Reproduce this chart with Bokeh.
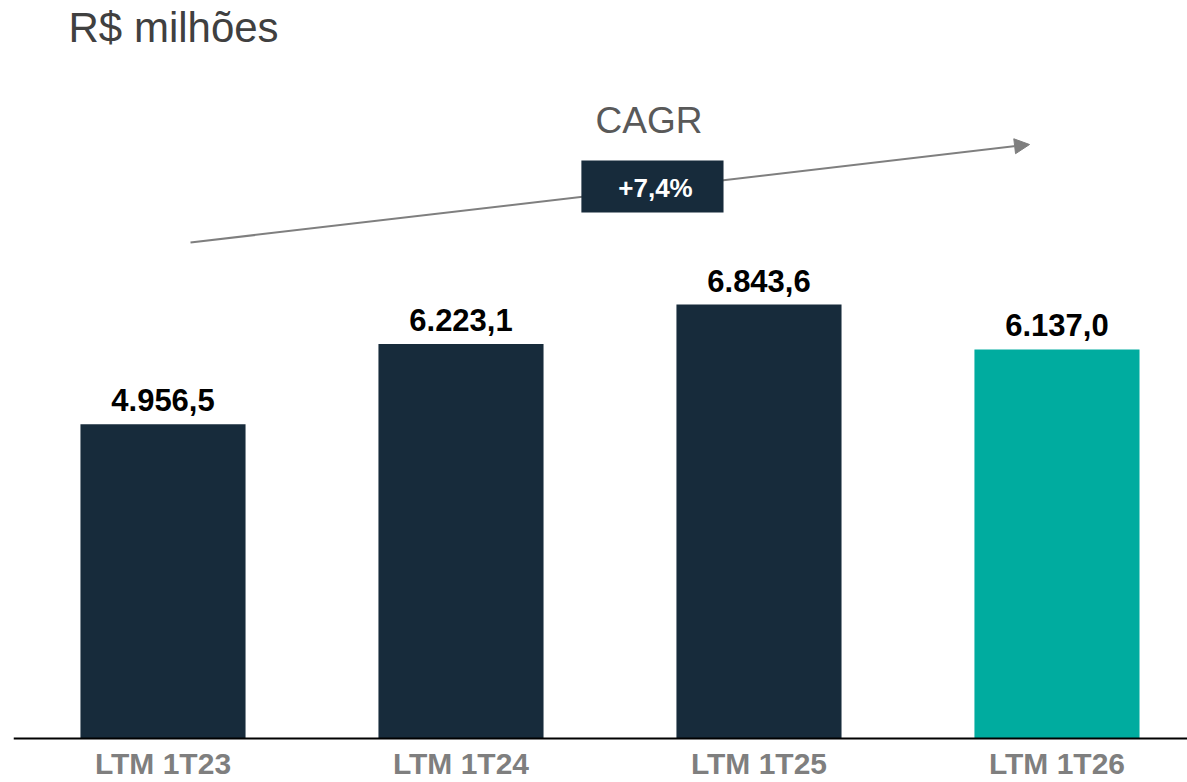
from bokeh.plotting import figure
from bokeh.models import ColumnDataSource, Range1d, Span, Arrow, NormalHead, Label
from bokeh.core.properties import value
from bokeh.embed import file_html
from bokeh.resources import INLINE

# ---- data ----
categories = ["LTM 1T23", "LTM 1T24", "LTM 1T25", "LTM 1T26"]
values = [4956.5, 6223.1, 6843.6, 6137.0]
value_labels = ["4.956,5", "6.223,1", "6.843,6", "6.137,0"]
bar_colors = ["#172B3B", "#172B3B", "#172B3B", "#00AC9F"]
unit_label = "R$ milhões"
cagr_title = "CAGR"
cagr_value = "+7,4%"

FONT_NAME = "Liberation Sans"
FONT = value(FONT_NAME)
NAVY = "#172B3B"
GRAY = "#7F7F7F"

PX = 0.0634  # pixels per data unit on the y scale


def lift(size):
    # compensate the renderer's baseline placement (moves text up)
    return -round(0.38 * size)


xs = list(range(len(categories)))
src = ColumnDataSource(dict(
    x=xs, top=values, label=value_labels, color=bar_colors,
    label_y=[v + 12 / PX for v in values],
    cat=categories, cat_y=[-36 / PX] * len(categories),
))

p = figure(
    width=1187, height=782, output_backend="svg", toolbar_location=None,
    x_range=Range1d(-0.5017, 3.438), y_range=Range1d(-44 / PX, 738 / PX),
    x_axis_location=None, y_axis_location=None,
    min_border_left=13, min_border_right=0, min_border_top=0, min_border_bottom=0,
)
p.grid.visible = False
p.outline_line_color = None
p.background_fill_color = "white"
p.border_fill_color = "white"

# CAGR arrow (under everything)
arrow = Arrow(
    end=NormalHead(size=15, fill_color=GRAY, line_color=GRAY),
    x_start=0.0923, y_start=7823, x_end=2.908, y_end=9369,
    line_color=GRAY, line_width=2, level="underlay",
)
p.add_layout(arrow)

# bars
p.vbar(x="x", top="top", width=0.554, fill_color="color", line_color=None, source=src)

# value labels
p.text(x="x", y="label_y", text="label", source=src, y_offset=lift(31),
       text_align="center", text_baseline="alphabetic",
       text_font=FONT, text_font_style="bold", text_font_size="31px",
       text_color="#000000")

# category labels
p.text(x="x", y="cat_y", text="cat", source=src, y_offset=lift(30),
       text_align="center", text_baseline="alphabetic",
       text_font=FONT, text_font_style="bold", text_font_size="30px",
       text_color=GRAY)

# baseline
p.add_layout(Span(location=0, dimension="width", line_color="#000000", line_width=2))

# CAGR box
p.quad(left=[1.404], right=[1.881], bottom=[8297], top=[9117],
       fill_color=NAVY, line_color=None)
p.add_layout(Label(x=1.6527, y=8533, text=cagr_value, text_align="center",
                   y_offset=-lift(26),
                   text_baseline="alphabetic", text_font=FONT_NAME, text_font_style="bold",
                   text_font_size="26px", text_color="white"))
p.add_layout(Label(x=1.631, y=9527, text=cagr_title, text_align="center",
                   y_offset=-lift(37),
                   text_baseline="alphabetic", text_font=FONT_NAME,
                   text_font_size="37px", text_color="#595959"))

# unit title
p.add_layout(Label(x=-0.317, y=10962, text=unit_label, text_align="left",
                   y_offset=-lift(42),
                   text_baseline="alphabetic", text_font=FONT_NAME,
                   text_font_size="42px", text_color="#404040"))

open("out.html", "w").write(file_html(p, INLINE))
